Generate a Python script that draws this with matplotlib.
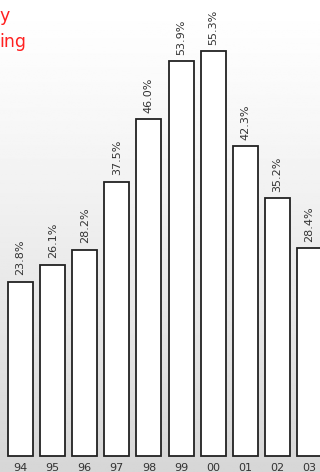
import numpy as np
import matplotlib
matplotlib.use("Agg")
import matplotlib.pyplot as plt

years = ["94", "95", "96", "97", "98", "99", "00", "01", "02", "03"]
values = [23.8, 26.1, 28.2, 37.5, 46.0, 53.9, 55.3, 42.3, 35.2, 28.4]
labels = ["23.8%", "26.1%", "28.2%", "37.5%", "46.0%", "53.9%", "55.3%", "42.3%", "35.2%", "28.4%"]

plt.rcParams['font.family'] = ['DejaVu Sans']

fig = plt.figure(figsize=(3.2, 4.72), dpi=100)
ax = fig.add_axes([0, 0, 1, 1])

# background gradient, white on top, light grey at bottom
t = np.linspace(0, 1, 256).reshape(-1, 1)
grad = 1.0 - 0.16 * t ** 1.2
ax.imshow(grad, cmap='gray', vmin=0, vmax=1, aspect='auto',
          extent=[-0.64, 9.33, -2.19, 62.3], zorder=0)

x = np.arange(len(years))
ax.bar(x, values, width=0.78, color='white', edgecolor='#222222',
       linewidth=1.3, zorder=2)

for i, v in enumerate(values):
    ax.text(x[i], v + 0.9, labels[i], rotation=90, ha='center', va='bottom',
            fontsize=8, color='#333333', zorder=3)
    ax.text(x[i], -1.6, years[i], ha='center', va='center',
            fontsize=8, color='#333333', zorder=3)

ax.set_xlim(-0.64, 9.33)
ax.set_ylim(-2.19, 62.3)
ax.axis('off')

fig.text(-0.003, 0.967, "y", color='#ff2020', fontsize=12.5, ha='left', va='center')
fig.text(-0.003, 0.911, "ing", color='#ff2020', fontsize=12.5, ha='left', va='center')

fig.savefig("out.png", dpi=100)
